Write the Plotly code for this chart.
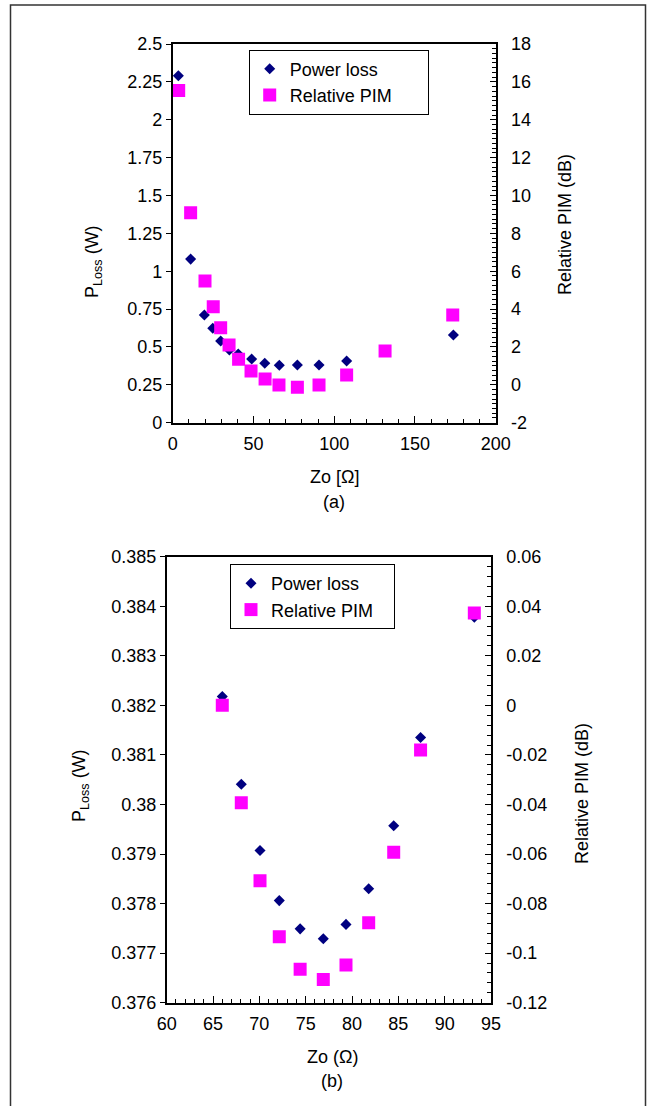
import plotly.graph_objects as go

W, H = 648, 1106

# ---------------- data: panel (a) ----------------
zo_a_loss = [3.5, 11.1, 19.6, 24.8, 29.7, 35.1, 40.6, 48.9, 57.0, 66.0, 77.2, 90.6, 107.7, 173.8]
loss_a = [2.29, 1.08, 0.711, 0.623, 0.539, 0.48, 0.453, 0.42, 0.392, 0.379, 0.381, 0.381, 0.407, 0.579]
zo_a_pim = [3.7, 11.1, 20.0, 25.1, 29.7, 34.9, 40.8, 48.5, 57.2, 65.8, 77.2, 90.6, 107.7, 131.5, 173.4]
pim_a = [15.55, 9.09, 5.48, 4.12, 3.02, 2.1, 1.35, 0.73, 0.31, -0.01, -0.13, -0.01, 0.52, 1.79, 3.69]

# ---------------- data: panel (b) ----------------
zo_b = [66.0, 68.05, 70.07, 72.15, 74.4, 76.9, 79.35, 81.8, 84.5, 87.4, 93.2]
loss_b = [0.38218, 0.38041, 0.37907, 0.37806, 0.37749, 0.37729, 0.37758, 0.37830, 0.37957, 0.38135, 0.38378]
pim_b = [0.0, -0.0393, -0.0708, -0.0934, -0.1065, -0.1106, -0.1048, -0.0877, -0.0593, -0.018, 0.0373]

# ---------------- tick labels ----------------
ra_vals = [-2, 0, 2, 4, 6, 8, 10, 12, 14, 16, 18]
ra_text = ["-2", "0", "2", "4", "6", "8", "10", "12", "14", "16", "18"]
rb_vals = [-0.12, -0.1, -0.08, -0.06, -0.04, -0.02, 0, 0.02, 0.04, 0.06]
rb_text = ["-0.12", "-0.1", "-0.08", "-0.06", "-0.04", "-0.02", "0", "0.02", "0.04", "0.06"]
la_vals = [0, 0.25, 0.5, 0.75, 1, 1.25, 1.5, 1.75, 2, 2.25, 2.5]
la_text = ["0", "0.25", "0.5", "0.75", "1", "1.25", "1.5", "1.75", "2", "2.25", "2.5"]
lb_vals = [0.376, 0.377, 0.378, 0.379, 0.38, 0.381, 0.382, 0.383, 0.384, 0.385]
lb_text = ["0.376", "0.377", "0.378", "0.379", "0.38", "0.381", "0.382", "0.383", "0.384", "0.385"]

FONT = "Liberation Sans, Arial, sans-serif"
FS = 18
NAVY = "#000080"
MAG = "#FF00FF"
NB = "\u00a0"


def px(x):
    return x / W


def py(y):
    return 1 - y / H


# plot areas in pixels
A = dict(x0=172.7, x1=495.7, y0=44.0, y1=422.7)
B = dict(x0=166.7, x1=491.0, y0=556.7, y1=1002.7)

fig = go.Figure()

# panel (a)
fig.add_trace(go.Scatter(x=zo_a_loss, y=loss_a, mode="markers", name="Power loss",
                         marker=dict(symbol="diamond", size=8.5, color=NAVY),
                         xaxis="x", yaxis="y", legend="legend"))
fig.add_trace(go.Scatter(x=zo_a_pim, y=pim_a, mode="markers", name="Relative PIM" + NB * 6,
                         marker=dict(symbol="square", size=13, color=MAG),
                         xaxis="x", yaxis="y2", legend="legend"))
# panel (b)
fig.add_trace(go.Scatter(x=zo_b, y=loss_b, mode="markers", name="Power loss",
                         marker=dict(symbol="diamond", size=8.5, color=NAVY),
                         xaxis="x2", yaxis="y4", legend="legend2"))
fig.add_trace(go.Scatter(x=zo_b, y=pim_b, mode="markers", name="Relative PIM" + NB * 3,
                         marker=dict(symbol="square", size=13, color=MAG),
                         xaxis="x2", yaxis="y5", legend="legend2"))

tickfont = dict(family=FONT, size=FS, color="black")
LW = 1.5

common = dict(showgrid=False, zeroline=False, linecolor="black", linewidth=LW,
              tickcolor="black", tickfont=tickfont, tickwidth=1, automargin=False)
overlay = dict(showticklabels=False, showline=False, side="left", showgrid=False,
               zeroline=False, tickcolor="black", tickwidth=1, automargin=False)

fig.update_layout(
    width=W, height=H,
    margin=dict(l=0, r=0, t=0, b=0, pad=0, autoexpand=False),
    paper_bgcolor="white", plot_bgcolor="white",
    font=dict(family=FONT, size=FS, color="black"),
    # ---- panel (a)
    xaxis=dict(domain=[px(A["x0"]), px(A["x1"])], range=[0, 200], dtick=50, anchor="y",
               showline=True, mirror=True, ticks="inside", ticklen=7,
               minor=dict(dtick=10, ticks="inside", ticklen=4, tickcolor="black"),
               ticklabelstandoff=4, **common),
    yaxis=dict(domain=[py(A["y1"]), py(A["y0"])], range=[0, 2.5], anchor="x",
               tickmode="array", tickvals=la_vals, ticktext=la_text,
               showline=True, ticks="outside", ticklen=5, side="left", **common),
    yaxis3=dict(domain=[py(A["y1"]), py(A["y0"])], range=[0, 2.5], anchor="x", overlaying="y",
                dtick=0.05, tick0=0, ticks="inside", ticklen=5, **overlay),
    yaxis2=dict(domain=[py(A["y1"]), py(A["y0"])], range=[-2, 18], anchor="x", overlaying="y",
                side="right", tickmode="array", tickvals=ra_vals, ticktext=ra_text,
                showline=True, ticks="inside", ticklen=6, ticklabelstandoff=10,
                minor=dict(dtick=0.25, tick0=0, ticks="inside", ticklen=4, tickcolor="black"),
                **common),
    # ---- panel (b)
    xaxis2=dict(domain=[px(B["x0"]), px(B["x1"])], range=[60, 95], dtick=5, anchor="y4",
                showline=True, mirror=True, ticks="inside", ticklen=7,
                minor=dict(dtick=1, ticks="inside", ticklen=4, tickcolor="black"),
                ticklabelstandoff=4, **common),
    yaxis4=dict(domain=[py(B["y1"]), py(B["y0"])], range=[0.376, 0.385], anchor="x2",
                tickmode="array", tickvals=lb_vals, ticktext=lb_text,
                showline=True, ticks="outside", ticklen=5, side="left", **common),
    yaxis6=dict(domain=[py(B["y1"]), py(B["y0"])], range=[0.376, 0.385], anchor="x2", overlaying="y4",
                dtick=0.0002, tick0=0.376, ticks="inside", ticklen=5, **overlay),
    yaxis5=dict(domain=[py(B["y1"]), py(B["y0"])], range=[-0.12, 0.06], anchor="x2", overlaying="y4",
                side="right", tickmode="array", tickvals=rb_vals, ticktext=rb_text,
                showline=True, ticks="inside", ticklen=6, ticklabelstandoff=10,
                minor=dict(dtick=0.004, tick0=0, ticks="inside", ticklen=4, tickcolor="black"),
                **common),
    legend=dict(x=px(248.7), y=py(49.5), xanchor="left", yanchor="top",
                bordercolor="black", borderwidth=1, bgcolor="white",
                font=dict(family=FONT, size=FS, color="black"),
                itemsizing="trace", tracegroupgap=0),
    legend2=dict(x=px(230), y=py(564), xanchor="left", yanchor="top",
                 bordercolor="black", borderwidth=1, bgcolor="white",
                 font=dict(family=FONT, size=FS, color="black"),
                 itemsizing="trace", tracegroupgap=0),
    showlegend=True,
)

ann = []


def text(x, y, s, angle=0):
    ann.append(dict(x=px(x), y=py(y), xref="paper", yref="paper", text=s, showarrow=False,
                    textangle=angle, xanchor="center", yanchor="middle",
                    font=dict(family=FONT, size=FS, color="black")))


text(334, 477, "Zo [Ω]")
text(334, 501.5, "(a)")
text(93, 262, "P<sub>Loss</sub> (W)", -90)
text(565, 225, "Relative PIM (dB)", -90)

text(332, 1056.5, "Zo (Ω)")
text(332, 1080.5, "(b)")
text(80, 786, "P<sub>Loss</sub> (W)", -90)
text(582, 794, "Relative PIM (dB)", -90)

fig.update_layout(annotations=ann)

# outer frame
fig.add_shape(type="rect", xref="paper", yref="paper",
              x0=px(10.5), x1=px(645.5), y0=py(1120), y1=py(5),
              line=dict(color="#333333", width=1.5), fillcolor="rgba(0,0,0,0)")

fig.write_html("out.html",
               post_script="document.documentElement.style.margin='0';document.body.style.margin='0';",
               config={"displayModeBar": False})
